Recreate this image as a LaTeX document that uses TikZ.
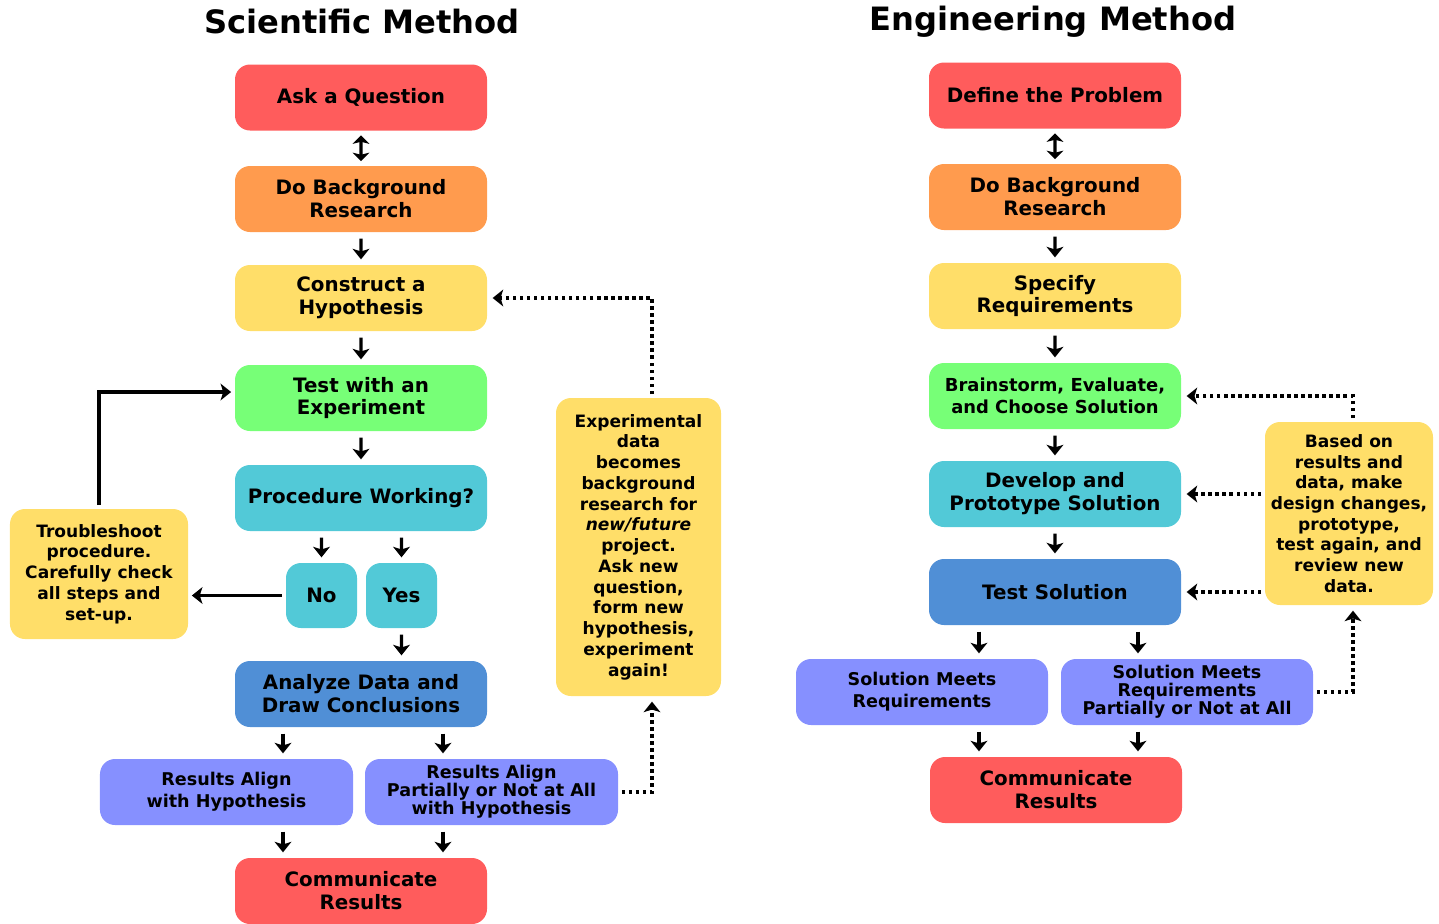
\documentclass[tikz,border=0pt]{standalone}
\usepackage{fontspec}
\setmainfont{DejaVu Sans}
\usepackage{tikz}
\usetikzlibrary{arrows.meta}
\definecolor{stepred}{HTML}{FF5C5C}
\definecolor{steporange}{HTML}{FF9B4E}
\definecolor{stepyellow}{HTML}{FFDE69}
\definecolor{stepgreen}{HTML}{77FF77}
\definecolor{stepcyan}{HTML}{52C9D7}
\definecolor{stepblue}{HTML}{508FD6}
\definecolor{steppurple}{HTML}{8690FF}

\begin{document}
\begin{tikzpicture}[scale=0.2]
    \tikzstyle{every node}+=[inner sep=0pt]
    \tikzstyle{box}=[rectangle, rounded corners=0.3cm, minimum width=5.04cm, minimum height=1.32cm, align=center, font=\bfseries\fontsize{11.3}{13}\selectfont]
    \tikzstyle{small}=[font=\bfseries\fontsize{10}{12.5}\selectfont]
    \tikzstyle{tight}=[font=\bfseries\fontsize{10}{10.2}\selectfont]
    \tikzstyle{note}=[box, fill=stepyellow, font=\bfseries\fontsize{9.7}{11.8}\selectfont]
    \tikzstyle{arr}=[-{Stealth[length=6pt,width=9.5pt,inset=1.5pt]}, line width=1.8pt, shorten <=3.5pt, shorten >=3pt]
    \tikzstyle{both}=[{Stealth[length=4.8pt,width=9.5pt,inset=1.2pt]}-{Stealth[length=4.8pt,width=9.5pt,inset=1.2pt]}, shorten <=2.6pt, shorten >=2.6pt]
    \tikzstyle{darr}=[-{Stealth[length=6pt,width=9.5pt,inset=1.5pt]}, line width=2pt, dash pattern=on 2pt off 2pt, shorten <=2pt, shorten >=3pt]
    \useasboundingbox (0,0) rectangle (143.9,-92.3);
    \node (scititle) at (36.2,-2.2) {\bfseries\fontsize{18.3}{20}\selectfont Scientific Method};
    \node (engtitle) at (105.3,-2.2) {\bfseries\fontsize{18.3}{20}\selectfont Engineering Method};
    \node [box, fill=stepred] (ask) at (36.1,-9.75) {Ask a Question};
    \node [box, fill=steporange] (bgsci) at (36.1,-19.9) {Do Background\\Research};
    \node [box, fill=stepyellow] (hyp) at (36.1,-29.8) {Construct a\\Hypothesis};
    \node [box, fill=stepgreen] (exper) at (36.1,-39.8) {Test with an\\Experiment};
    \node [box, fill=stepcyan] (proc) at (36.1,-49.8) {Procedure Working?};
    \node [box, fill=stepcyan, minimum width=1.42cm, minimum height=1.3cm] (no) at (32.15,-59.55) {No};
    \node [box, fill=stepcyan, minimum width=1.42cm, minimum height=1.3cm] (yes) at (40.15,-59.55) {Yes};
    \node [box, fill=stepblue] (analyze) at (36.1,-69.4) {Analyze Data and\\Draw Conclusions};
    \node [box, small, fill=steppurple, minimum width=5.06cm] (align) at (22.65,-79.2) {Results Align\\with Hypothesis};
    \node [box, tight, fill=steppurple, minimum width=5.06cm] (partial) at (49.15,-79.2) {Results Align\\Partially or Not at All\\with Hypothesis};
    \node [box, fill=stepred] (commsci) at (36.1,-89.1) {Communicate\\Results};
    \node [note, minimum width=3.56cm, minimum height=2.6cm] (trouble) at (9.9,-57.4) {Troubleshoot\\procedure.\\Carefully check\\all steps and\\set-up.};
    \node [note, minimum width=3.3cm, minimum height=5.96cm] (newproj) at (63.85,-54.7) {Experimental\\data\\becomes\\background\\research for\\\textit{new/future}\\project.\\Ask new\\question,\\form new\\hypothesis,\\experiment\\again!};
    \node [box, fill=stepred] (define) at (105.5,-9.55) {Define the Problem};
    \node [box, fill=steporange] (bgeng) at (105.5,-19.7) {Do Background\\Research};
    \node [box, fill=stepyellow] (spec) at (105.5,-29.6) {Specify\\Requirements};
    \node [box, fill=stepgreen, font=\bfseries\fontsize{10.2}{12.5}\selectfont] (brain) at (105.5,-39.6) {Brainstorm, Evaluate,\\and Choose Solution};
    \node [box, fill=stepcyan] (proto) at (105.5,-49.4) {Develop and\\Prototype Solution};
    \node [box, fill=stepblue] (testsol) at (105.5,-59.2) {Test Solution};
    \node [box, small, fill=steppurple] (meets) at (92.2,-69.2) {Solution Meets\\Requirements};
    \node [box, tight, fill=steppurple] (mpartial) at (118.7,-69.2) {Solution Meets\\Requirements\\Partially or Not at All};
    \node [box, fill=stepred] (commeng) at (105.6,-79.0) {Communicate\\Results};
    \node [note, minimum width=3.36cm, minimum height=3.66cm] (based) at (134.9,-51.35) {Based on\\results and\\data, make\\design changes,\\prototype,\\test again, and\\review new\\data.};
    \coordinate (sl) at (28.3,-75);
    \coordinate (sr) at (44.3,-75);
    \coordinate (sd) at (65.2,-75);
    \coordinate (back) at (20,-39.2);
    \coordinate (el) at (97.9,-65);
    \coordinate (er) at (113.8,-65);
    \coordinate (ed) at (135.3,-65);
    \draw [arr, both] (ask) -- (bgsci);
    \draw [arr] (bgsci) -- (hyp);
    \draw [arr] (hyp) -- (exper);
    \draw [arr] (exper) -- (proc);
    \draw [arr] (proc.south -| no) -- (no);
    \draw [arr] (proc.south -| yes) -- (yes);
    \draw [arr] (yes) -- (yes |- analyze.north);
    \draw [arr] (analyze.south -| sl) -- (align.north -| sl);
    \draw [arr] (analyze.south -| sr) -- (partial.north -| sr);
    \draw [arr] (align.south -| sl) -- (commsci.north -| sl);
    \draw [arr] (partial.south -| sr) -- (commsci.north -| sr);
    \draw [arr, shorten <=2pt, shorten >=2pt] (trouble.north) |- (exper.west |- back);
    \draw [arr, shorten <=2pt, shorten >=2pt] (no.west) -- (no.west -| trouble.east);
    \draw [darr] (partial.east) -| (sd |- newproj.south);
    \draw [darr] (sd |- newproj.north) |- (hyp.east);
    \draw [arr, both] (define) -- (bgeng);
    \draw [arr] (bgeng) -- (spec);
    \draw [arr] (spec) -- (brain);
    \draw [arr] (brain) -- (proto);
    \draw [arr] (proto) -- (testsol);
    \draw [arr] (testsol.south -| el) -- (meets.north -| el);
    \draw [arr] (testsol.south -| er) -- (mpartial.north -| er);
    \draw [arr] (meets.south -| el) -- (commeng.north -| el);
    \draw [arr] (mpartial.south -| er) -- (commeng.north -| er);
    \draw [darr] (based.north -| ed) |- (brain.east);
    \draw [darr] (based.west |- proto.east) -- (proto.east);
    \draw [darr] (based.west |- testsol.east) -- (testsol.east);
    \draw [darr] (mpartial.east) -| (ed |- based.south);
\end{tikzpicture}
\end{document}
